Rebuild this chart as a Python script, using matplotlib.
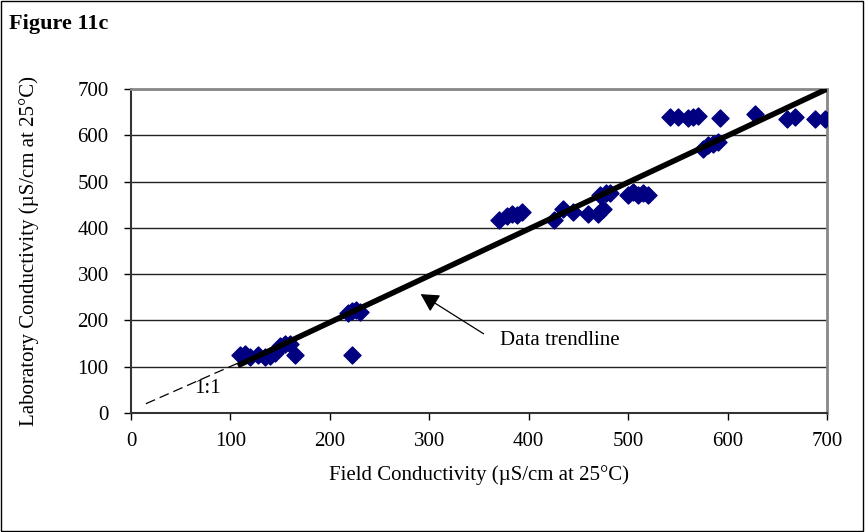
import matplotlib.pyplot as plt
from matplotlib.patches import Rectangle

# field vs laboratory conductivity (uS/cm at 25 C)
field = [110, 115, 120, 128, 135, 140, 145, 150, 155, 160, 165, 222,
         218, 222, 226, 230, 370, 378, 383, 388, 393, 425, 435, 445,
         460, 470, 472, 475, 478, 482, 500, 505, 510, 515, 520,
         542, 550, 560, 565, 570, 575, 580, 585, 590, 592, 628, 660,
         668, 688, 698]
lab = [125, 128, 122, 125, 122, 124, 130, 145, 148, 150, 125, 125,
       215, 220, 222, 218, 418, 425, 430, 428, 435, 418, 440, 435,
       430, 430, 470, 440, 475, 475, 470, 478, 472, 475, 472,
       640, 640, 638, 640, 642, 570, 580, 582, 585, 638, 645, 635,
       640, 635, 635]

trend_x = [110, 700]
trend_y = [105, 700]
one_x = [15, 110]
one_y = [20, 110]

plt.rcParams['font.family'] = ['Liberation Serif', 'DejaVu Serif']

fig = plt.figure(figsize=(8.65, 5.32), dpi=100)
ax = fig.add_axes([0.1514, 0.2237, 0.8046, 0.609])

ax.plot(one_x, one_y, color='black', lw=0.9, ls=(0, (8, 4)), zorder=2)
ax.scatter(field, lab, marker='D', s=75, color='#000080', zorder=3)
ax.plot(trend_x, trend_y, color='black', lw=4, zorder=4)

ax.annotate('', xy=(289, 260), xytext=(357, 168),
            arrowprops=dict(arrowstyle='-|>,head_length=1.1,head_width=0.6',
                            color='black', lw=0.9))
ax.text(371, 156, 'Data trendline', fontsize=15, va='center', ha='left')
ax.text(77, 52, '1:1', fontsize=15, va='center', ha='center')

ax.set_xlim(0, 700)
ax.set_ylim(0, 700)
ax.set_xticks(range(0, 701, 100))
ax.set_yticks(range(0, 701, 100))
ax.tick_params(direction='out', length=5, labelsize=15, width=1)
ax.tick_params(axis='x', pad=9)
ax.tick_params(axis='y', pad=11)
ax.grid(axis='y', color='#222222', lw=1)
ax.set_axisbelow(True)
for side in ['top', 'right']:
    ax.spines[side].set_color('#888888')
    ax.spines[side].set_linewidth(2)
for side in ['left', 'bottom']:
    ax.spines[side].set_color('#333333')
    ax.spines[side].set_linewidth(1.5)

ax.set_xlabel('Field Conductivity (µS/cm at 25°C)', fontsize=15, labelpad=10)
ax.set_ylabel('Laboratory Conductivity (µS/cm at 25°C)', fontsize=15, labelpad=28)

fig.text(0.01, 0.955, 'Figure 11c', fontsize=16, fontweight='bold',
         va='center', ha='left')
fig.patches.append(Rectangle((0.001, 0.002), 0.997, 0.996, fill=False,
                             edgecolor='black', lw=1,
                             transform=fig.transFigure, figure=fig))

fig.savefig('out.png', dpi=100)
